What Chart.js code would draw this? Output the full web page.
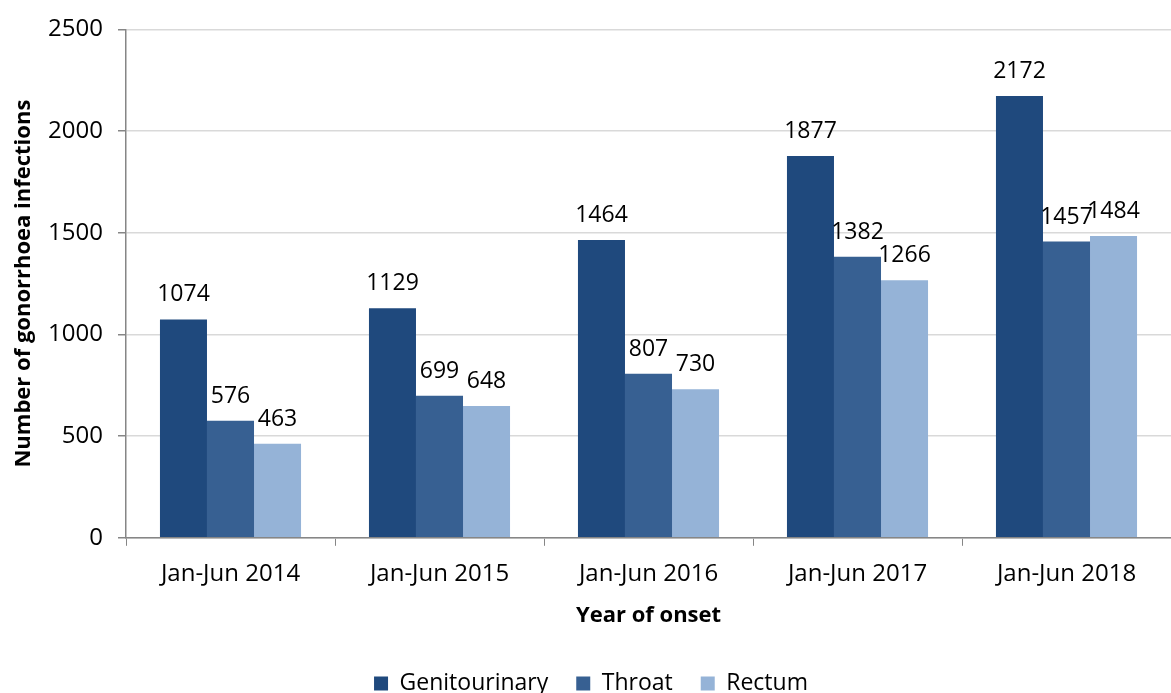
<!DOCTYPE html>
<html>
<head>
<meta charset="utf-8">
<script src="https://cdn.jsdelivr.net/npm/chart.js@4"></script>
<style>
  html, body { margin: 0; padding: 0; background: #fff; }
  #wrap { width: 1171px; height: 693px; }
</style>
</head>
<body>
<div id="wrap"><canvas id="gonoChart"></canvas></div>
<script>
// data dari grafik
const years = ['Jan-Jun 2014', 'Jan-Jun 2015', 'Jan-Jun 2016', 'Jan-Jun 2017', 'Jan-Jun 2018'];
const genitourinary = [1074, 1129, 1464, 1877, 2172];
const throat = [576, 699, 807, 1382, 1457];
const rectum = [463, 648, 730, 1266, 1484];

const fontFamily = "'Open Sans', 'Noto Sans', sans-serif";
Chart.defaults.font.family = fontFamily;
Chart.defaults.color = '#000';

// label angka di atas batang
const barLabels = {
    id: 'barLabels',
    afterDatasetsDraw(chart) {
        const ctx = chart.ctx;
        ctx.save();
        ctx.font = '23px ' + fontFamily;
        ctx.fillStyle = '#000';
        ctx.textAlign = 'center';
        ctx.textBaseline = 'bottom';
        chart.data.datasets.forEach((ds, i) => {
            chart.getDatasetMeta(i).data.forEach((bar, j) => {
                ctx.fillText(ds.data[j], bar.x, bar.y - 13);
            });
        });
        ctx.restore();
    }
};

const ctx = document.getElementById('gonoChart').getContext('2d');
new Chart(ctx, {
    type: 'bar',
    data: {
        labels: years,
        datasets: [
            { label: 'Genitourinary', data: genitourinary, backgroundColor: '#1f497d', borderColor: '#1f497d' },
            { label: 'Throat', data: throat, backgroundColor: '#376092', borderColor: '#376092' },
            { label: 'Rectum', data: rectum, backgroundColor: '#95b3d7', borderColor: '#95b3d7' }
        ]
    },
    options: {
        responsive: true,
        maintainAspectRatio: false,
        animation: false,
        layout: { padding: { top: 22, right: 0, left: 11, bottom: -12 } },
        datasets: {
            bar: { categoryPercentage: 0.675, barPercentage: 1.0 }
        },
        scales: {
            x: {
                offset: true,
                grid: {
                    offset: true,
                    drawOnChartArea: false,
                    tickLength: 8,
                    tickColor: '#868686'
                },
                border: { color: '#868686', width: 1.5 },
                ticks: { font: { size: 24 }, color: '#000', padding: 14 },
                title: {
                    display: true,
                    text: 'Year of onset',
                    font: { size: 22, weight: 'bold' },
                    color: '#000',
                    padding: { top: 0, bottom: 15 }
                }
            },
            y: {
                min: 0,
                max: 2500,
                afterFit(scale) {
                    // lebar sumbu y tetap supaya area plot mulai di x=126
                    scale.width = 115;
                },
                ticks: {
                    stepSize: 500,
                    font: { size: 24 },
                    color: '#000',
                    padding: 15,
                    callback: v => v
                },
                grid: {
                    color: '#d9d9d9',
                    lineWidth: 1.5,
                    tickLength: 8,
                    tickColor: '#868686'
                },
                border: { color: '#868686', width: 1.5 },
                title: {
                    display: true,
                    text: 'Number of gonorrhoea infections',
                    font: { size: 22, weight: 'bold' },
                    color: '#000',
                    padding: { top: 0, bottom: 0 }
                }
            }
        },
        plugins: {
            legend: {
                position: 'bottom',
                labels: {
                    boxWidth: 14,
                    boxHeight: 14,
                    padding: 28,
                    font: { size: 23 },
                    color: '#000'
                }
            },
            tooltip: { enabled: false }
        }
    },
    plugins: [barLabels]
});
</script>
</body>
</html>
